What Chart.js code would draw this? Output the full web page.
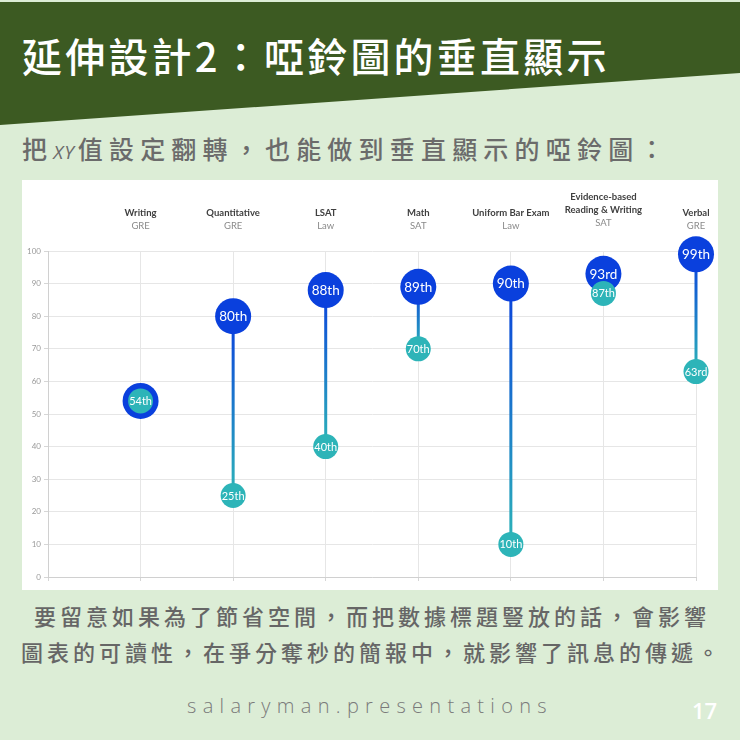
<!DOCTYPE html>
<html>
<head>
<meta charset="utf-8">
<script src="https://cdn.jsdelivr.net/npm/chart.js@4.4.1/dist/chart.umd.min.js"></script>
<style>
  html, body { margin:0; padding:0; }
  body { width:740px; height:740px; background:#dcedd6; position:relative; overflow:hidden; font-family:"Noto Sans CJK TC", sans-serif; }
  #band { position:absolute; left:0; top:0; width:740px; height:130px; background:#3c5a22; clip-path:polygon(0 2px, 740px 2px, 740px 73px, 0 125px); }
  #title { position:absolute; left:22px; top:35px; color:#fff; font-size:40px; line-height:40px; font-weight:500; letter-spacing:3.2px; white-space:nowrap; }
  #sub { position:absolute; left:22px; top:136px; color:#6b6b6b; font-size:25px; line-height:25px; font-weight:500; letter-spacing:6.2px; white-space:nowrap; }
  #sub i { font-family:"Open Sans", sans-serif; font-weight:400; font-size:19px; letter-spacing:1px; margin-right:3px; }
  #panel { position:absolute; left:22px; top:180px; width:696px; height:410px; background:#fff; overflow:hidden; }
  #foot { position:absolute; left:0; top:597px; width:740px; text-align:center; color:#666; font-size:22px; line-height:36px; font-weight:500; letter-spacing:4px; padding-left:4px; box-sizing:border-box; }
  #brand { position:absolute; left:0; top:693px; width:740px; text-align:center; color:#7a7a7a; font-family:"Open Sans", sans-serif; font-weight:300; font-size:20px; line-height:26px; letter-spacing:6.3px; padding-left:0px; box-sizing:border-box; }
  #page { position:absolute; left:692px; top:697px; color:#fff; font-family:"Open Sans", sans-serif; font-weight:600; font-size:22px; line-height:26px; }
</style>
</head>
<body>
<div id="band"></div>
<div id="title">延伸設計2：啞鈴圖的垂直顯示</div>
<div id="sub">把<i>XY</i>值設定翻轉，也能做到垂直顯示的啞鈴圖：</div>
<div id="panel"><canvas id="c" width="696" height="415"></canvas></div>
<div id="foot">要留意如果為了節省空間，而把數據標題豎放的話，會影響<br>圖表的可讀性，在爭分奪秒的簡報中，就影響了訊息的傳遞。</div>
<div id="brand">salaryman.presentations</div>
<div id="page">17</div>
<script>
// ---- data ----
const categoryNames = [['Writing'], ['Quantitative'], ['LSAT'], ['Math'], ['Uniform Bar Exam'], ['Evidence-based', 'Reading & Writing'], ['Verbal']];
const categorySubs = ['GRE', 'GRE', 'Law', 'SAT', 'Law', 'SAT', 'GRE'];
const highValues = [54, 80, 88, 89, 90, 93, 99];
const lowValues  = [54, 25, 40, 70, 10, 87, 63];
const yTicks = [0, 10, 20, 30, 40, 50, 60, 70, 80, 90, 100];

const BLUE = '#0a40dd';
const TEAL = '#2db4b8';

function ordinal(n) {
  const t = n % 100;
  if (t >= 11 && t <= 13) return n + 'th';
  const u = n % 10;
  return n + (u === 1 ? 'st' : u === 2 ? 'nd' : u === 3 ? 'rd' : 'th');
}

const lineData = [];
categoryNames.forEach((_, i) => {
  lineData.push({ x: i + 1, y: highValues[i] });
  lineData.push({ x: i + 1, y: lowValues[i] });
  lineData.push({ x: i + 1.5, y: null });
});
const highData = highValues.map((v, i) => ({ x: i + 1, y: v }));
const lowData = lowValues.map((v, i) => ({ x: i + 1, y: v }));

const labelPlugin = {
  id: 'dotLabels',
  afterDatasetDraw(chart, args) {
    const ds = chart.data.datasets[args.index];
    if (!ds.pointLabels) return;
    const ctx = chart.ctx;
    ctx.save();
    ctx.fillStyle = '#ffffff';
    ctx.textAlign = 'center';
    ctx.textBaseline = 'middle';
    ctx.font = ds.labelFont;
    args.meta.data.forEach((pt, i) => {
      if (ds.skipEqual && highValues[i] === lowValues[i]) return;
      ctx.fillText(ordinal(ds.data[i].y), pt.x, pt.y + 0.5);
    });
    ctx.restore();
  }
};

const headerPlugin = {
  id: 'catHeaders',
  afterDraw(chart) {
    const ctx = chart.ctx;
    const xs = chart.scales.x;
    ctx.save();
    ctx.textAlign = 'center';
    ctx.textBaseline = 'alphabetic';
    categoryNames.forEach((lines, i) => {
      const x = xs.getPixelForValue(i + 1);
      let y = 49 - (lines.length - 1) * 3.5;
      ctx.font = '9.5px Lato, "Open Sans", sans-serif';
      ctx.fillStyle = '#8a8a8a';
      ctx.fillText(categorySubs[i], x, y);
      ctx.font = 'bold 9.5px Lato, "Open Sans", sans-serif';
      ctx.fillStyle = '#404040';
      for (let k = lines.length - 1; k >= 0; k--) {
        y -= 13;
        ctx.fillText(lines[k], x, y);
      }
    });
    ctx.restore();
  }
};

new Chart(document.getElementById('c'), {
  type: 'scatter',
  data: {
    datasets: [
      {
        type: 'line',
        data: lineData,
        order: 3,
        spanGaps: false,
        pointRadius: 0,
        borderWidth: 3,
        clip: false,
        segment: {
          borderColor: (c) => {
            const g = c.chart.ctx.createLinearGradient(0, c.p0.y, 0, c.p1.y);
            g.addColorStop(0, BLUE);
            g.addColorStop(1, TEAL);
            return g;
          }
        }
      },
      {
        data: highData,
        order: 2,
        pointRadius: 18,
        pointHoverRadius: 18,
        backgroundColor: BLUE,
        borderWidth: 0,
        clip: false,
        pointLabels: true,
        skipEqual: true,
        labelFont: '13.5px Lato, "Open Sans", sans-serif'
      },
      {
        data: lowData,
        order: 1,
        pointRadius: 12.5,
        pointHoverRadius: 12.5,
        backgroundColor: TEAL,
        borderWidth: 0,
        clip: false,
        pointLabels: true,
        labelFont: '11px Lato, "Open Sans", sans-serif'
      }
    ]
  },
  options: {
    responsive: false,
    animation: false,
    events: [],
    layout: { padding: { top: 71, right: 22, left: 0, bottom: 0 } },
    plugins: { legend: { display: false }, tooltip: { enabled: false }, title: { display: false } },
    scales: {
      x: {
        type: 'linear',
        min: 0,
        max: categoryNames.length,
        ticks: { display: false, stepSize: 1 },
        grid: { color: '#e6e6e6', tickLength: 4, tickColor: '#d6d6d6' },
        border: { color: '#d0d0d0' },
        afterFit: (s) => { s.height = 8; }
      },
      y: {
        min: 0,
        max: 100,
        afterBuildTicks: (s) => { s.ticks = yTicks.map(v => ({ value: v })); },
        ticks: { color: '#9a9a9a', font: { size: 8, family: 'Lato, "Open Sans", sans-serif' }, padding: 3 },
        grid: { color: '#e6e6e6', tickLength: 4, tickColor: '#d6d6d6' },
        border: { color: '#d0d0d0' },
        afterFit: (s) => { s.width = 26; }
      }
    }
  },
  plugins: [labelPlugin, headerPlugin]
});
</script>
</body>
</html>
